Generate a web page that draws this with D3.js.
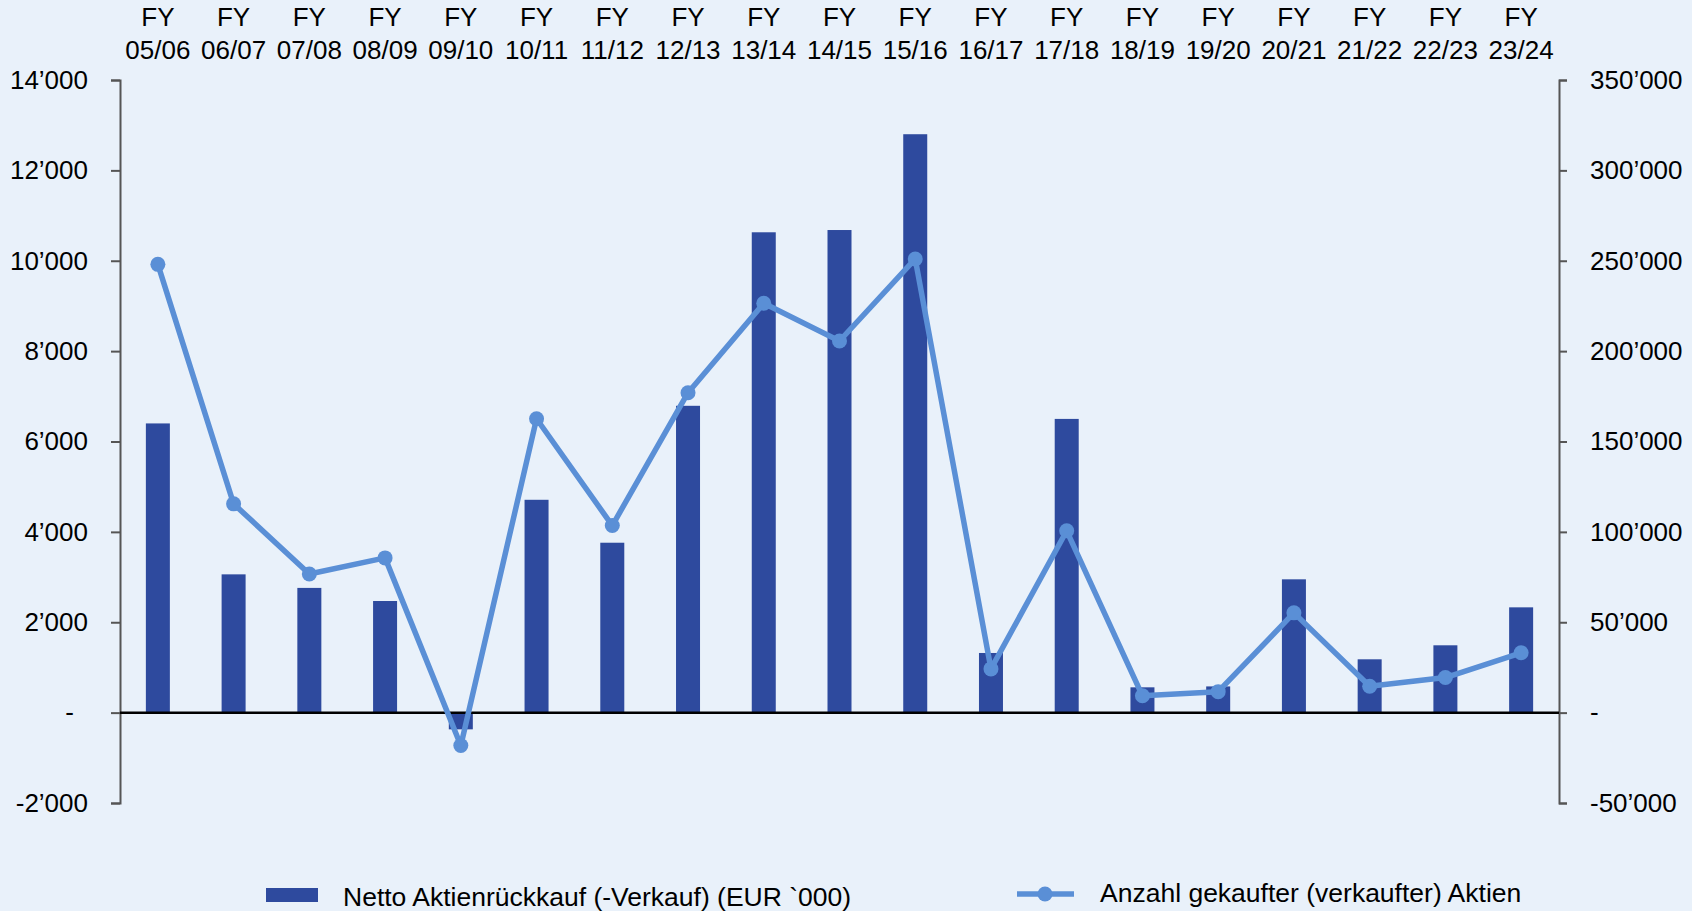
<!doctype html>
<html>
  <head>
    <title>Aktienrueckkauf</title>
    <style>
      * { margin: 0; padding: 0; box-sizing: border-box; }
      body { background: #e9f1fa; font-family: "Liberation Sans", Arial, sans-serif; }
      svg { display: block; }
      text { fill: #000; }
    </style>
    <script src="https://cdnjs.cloudflare.com/ajax/libs/d3/7.8.5/d3.min.js"></script>
  </head>
  <body>
    <div id="chart"></div>
    <script>
      // fiscal years, two-line labels
      var years = ["05/06","06/07","07/08","08/09","09/10","10/11","11/12","12/13","13/14","14/15",
                   "15/16","16/17","17/18","18/19","19/20","20/21","21/22","22/23","23/24"];
      // Netto Aktienrueckkauf (EUR '000), left axis
      var netBuyback = [6400,3060,2760,2470,-370,4710,3760,6790,10630,10680,
                        12800,1320,6500,560,580,2950,1180,1490,2330];
      // Anzahl gekaufter (verkaufter) Aktien, right axis
      var sharesBought = [248000,115500,76700,85600,-18200,162600,103500,177000,226500,205600,
                          251000,24200,100600,9300,11600,55200,14600,19400,33100];
      var leftTicks = [-2000,0,2000,4000,6000,8000,10000,12000,14000];
      var rightTicks = [-50000,0,50000,100000,150000,200000,250000,300000,350000];
      var seriesNames = ["Netto Aktienrückkauf (-Verkauf) (EUR `000)", "Anzahl gekaufter (verkaufter) Aktien"];

      var width = 1692, height = 911;
      var plotLeft = 120, plotRight = 1559, plotTop = 80, plotBottom = 803;
      var barColor = "#2e4a9e", lineColor = "#5a8fd6";
      var fontSize = "26px";

      var loc = d3.formatLocale({decimal: ".", thousands: "\u2019", grouping: [3], currency: ["", ""], minus: "-"});
      var fmt = function (v) { return v === 0 ? "-" : loc.format(",")(v); };

      var svg = d3.select("#chart").append("svg")
                  .attr("width", width)
                  .attr("height", height);

      var x = d3.scaleBand().domain(years).range([plotLeft, plotRight]).paddingInner(0).paddingOuter(0);
      var yL = d3.scaleLinear().domain([-2000, 14000]).range([plotBottom, plotTop]);
      var yR = d3.scaleLinear().domain([-50000, 350000]).range([plotBottom, plotTop]);
      var barW = 24;
      var cx = function (i) { return x(years[i]) + x.bandwidth() / 2; };

      // left axis
      var axL = svg.append("g")
                   .attr("transform", "translate(" + plotLeft + ",0)")
                   .call(d3.axisLeft(yL).tickValues(leftTicks).tickFormat(fmt).tickSizeInner(9).tickSizeOuter(9).tickPadding(23));
      // right axis
      var axR = svg.append("g")
                   .attr("transform", "translate(" + plotRight + ",0)")
                   .call(d3.axisRight(yR).tickValues(rightTicks).tickFormat(fmt).tickSizeInner(8).tickSizeOuter(8).tickPadding(23));
      [axL, axR].forEach(function (ax) {
        ax.selectAll("path, line").attr("stroke", "#555").attr("stroke-width", 2);
        ax.selectAll("text").attr("font-size", fontSize).attr("font-family", "'Liberation Sans', Arial, sans-serif").attr("fill", "#000");
      });
      axL.selectAll(".tick text").filter(function (d) { return d === 0; }).attr("dx", -14);

      // bars
      svg.append("g").selectAll("rect")
         .data(netBuyback)
         .enter()
         .append("rect")
         .attr("x", function (d, i) { return cx(i) - barW / 2; })
         .attr("y", function (d) { return yL(Math.max(0, d)); })
         .attr("width", barW)
         .attr("height", function (d) { return Math.abs(yL(d) - yL(0)); })
         .attr("fill", barColor);

      // zero line
      svg.append("line")
         .attr("x1", plotLeft).attr("x2", plotRight)
         .attr("y1", yL(0)).attr("y2", yL(0))
         .attr("stroke", "#000").attr("stroke-width", 2.5);

      // line series
      var line = d3.line()
                   .x(function (d, i) { return cx(i); })
                   .y(function (d) { return yR(d); });
      svg.append("path")
         .datum(sharesBought)
         .attr("d", line)
         .attr("fill", "none")
         .attr("stroke", lineColor)
         .attr("stroke-width", 5.5)
         .attr("stroke-linejoin", "round");
      svg.append("g").selectAll("circle")
         .data(sharesBought)
         .enter()
         .append("circle")
         .attr("cx", function (d, i) { return cx(i); })
         .attr("cy", function (d) { return yR(d); })
         .attr("r", 7.5)
         .attr("fill", lineColor);

      // category labels on top
      var cat = svg.append("g").selectAll("text")
                   .data(years)
                   .enter()
                   .append("text")
                   .attr("text-anchor", "middle")
                   .attr("font-size", fontSize);
      cat.append("tspan").attr("x", function (d, i) { return cx(i); }).attr("y", 26).text("FY");
      cat.append("tspan").attr("x", function (d, i) { return cx(i); }).attr("y", 59).text(function (d) { return d; });

      // legend
      var lg = svg.append("g");
      lg.append("rect").attr("x", 266).attr("y", 888).attr("width", 52).attr("height", 14).attr("fill", barColor);
      lg.append("text").attr("x", 343).attr("y", 906).attr("font-size", "26.5px").text(seriesNames[0]);
      lg.append("line").attr("x1", 1017).attr("x2", 1074).attr("y1", 894).attr("y2", 894)
        .attr("stroke", lineColor).attr("stroke-width", 5.5);
      lg.append("circle").attr("cx", 1045).attr("cy", 894).attr("r", 7.5).attr("fill", lineColor);
      lg.append("text").attr("x", 1100).attr("y", 902).attr("font-size", "26.5px").text(seriesNames[1]);
    </script>
  </body>
</html>
